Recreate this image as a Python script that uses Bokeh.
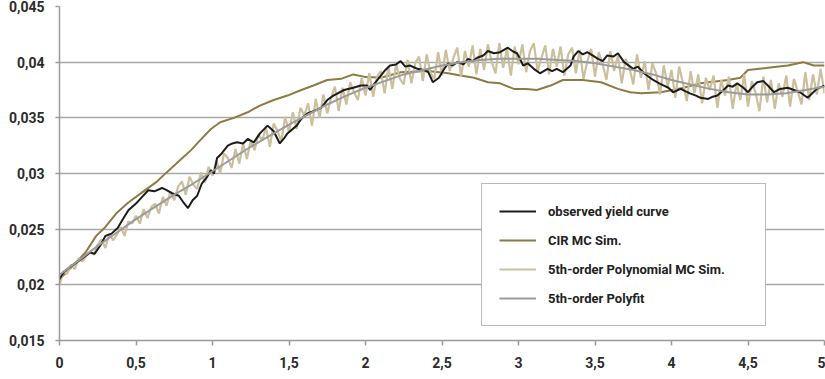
from bokeh.plotting import figure
from bokeh.models import Range1d, FixedTicker, CustomJSTickFormatter, Legend, LegendItem
from bokeh.embed import file_html
from bokeh.resources import INLINE

# ---------------- data ----------------
x_ticks = [0, 0.5, 1, 1.5, 2, 2.5, 3, 3.5, 4, 4.5, 5]
x_tick_labels = ["0", "0,5", "1", "1,5", "2", "2,5", "3", "3,5", "4", "4,5", "5"]
y_ticks = [0.015, 0.02, 0.025, 0.03, 0.035, 0.04, 0.045]
y_tick_labels = ["0,015", "0,02", "0,025", "0,03", "0,035", "0,04", "0,045"]

series_names = ["observed yield curve", "CIR MC Sim.",
                "5th-order Polynomial MC Sim.", "5th-order Polyfit"]

obs_x = [0.00, 0.03, 0.07, 0.10, 0.13, 0.17, 0.20, 0.23, 0.27, 0.30, 0.34, 0.38, 0.41,
         0.45, 0.50, 0.54, 0.58, 0.62, 0.67, 0.70, 0.74, 0.78, 0.81, 0.84, 0.87, 0.90,
         0.93, 0.96, 0.99, 1.01, 1.03, 1.06, 1.10, 1.13, 1.16, 1.20, 1.23, 1.27, 1.31,
         1.36, 1.40, 1.44, 1.47, 1.49, 1.55, 1.58, 1.62, 1.66, 1.71, 1.75, 1.79, 1.86,
         1.92, 1.97, 2.01, 2.03, 2.06, 2.10, 2.13, 2.16, 2.20, 2.23, 2.26, 2.29, 2.34,
         2.38, 2.41, 2.44, 2.48, 2.51, 2.54, 2.57, 2.60, 2.64, 2.67, 2.70, 2.73, 2.77,
         2.80, 2.84, 2.88, 2.93, 2.96, 2.99, 3.01, 3.03, 3.06, 3.10, 3.14, 3.19, 3.22,
         3.25, 3.29, 3.34, 3.36, 3.39, 3.42, 3.45, 3.52, 3.55, 3.58, 3.62, 3.65, 3.69,
         3.75, 3.78, 3.82, 3.88, 3.92, 3.95, 3.98, 4.01, 4.06, 4.09, 4.12, 4.16, 4.19,
         4.24, 4.27, 4.30, 4.34, 4.37, 4.40, 4.43, 4.47, 4.50, 4.53, 4.56, 4.60, 4.63,
         4.67, 4.71, 4.76, 4.80, 4.84, 4.89, 4.92, 4.95, 5.00]
obs_y = [0.0205, 0.0212, 0.0216, 0.0219, 0.0222, 0.0226, 0.0229, 0.0228, 0.0236, 0.0244,
         0.0246, 0.0251, 0.0258, 0.0267, 0.0273, 0.0279, 0.0285, 0.0284, 0.0287, 0.0285,
         0.0282, 0.0280, 0.0274, 0.0269, 0.0276, 0.0280, 0.0291, 0.0296, 0.0303, 0.0300,
         0.0314, 0.0318, 0.0325, 0.0327, 0.0328, 0.0327, 0.0331, 0.0328, 0.0336, 0.0343,
         0.0338, 0.0327, 0.0332, 0.0336, 0.0343, 0.0349, 0.0354, 0.0356, 0.0359, 0.0366,
         0.0370, 0.0375, 0.0377, 0.0379, 0.0379, 0.0375, 0.0381, 0.0388, 0.0393, 0.0397,
         0.0398, 0.0401, 0.0396, 0.0397, 0.0394, 0.0393, 0.0391, 0.0382, 0.0386, 0.0393,
         0.0399, 0.0397, 0.0400, 0.0398, 0.0403, 0.0401, 0.0404, 0.0406, 0.0410, 0.0408,
         0.0409, 0.0413, 0.0410, 0.0408, 0.0403, 0.0397, 0.0399, 0.0394, 0.0390, 0.0394,
         0.0392, 0.0394, 0.0391, 0.0397, 0.0405, 0.0410, 0.0407, 0.0409, 0.0403, 0.0401,
         0.0406, 0.0405, 0.0408, 0.0400, 0.0394, 0.0396, 0.0390, 0.0384, 0.0381, 0.0379,
         0.0377, 0.0373, 0.0376, 0.0374, 0.0372, 0.0370, 0.0368, 0.0367, 0.0369, 0.0370,
         0.0375, 0.0379, 0.0378, 0.0381, 0.0377, 0.0373, 0.0378, 0.0382, 0.0383, 0.0379,
         0.0373, 0.0376, 0.0377, 0.0375, 0.0373, 0.0368, 0.0372, 0.0376, 0.0379]

cir_x = [0.00, 0.05, 0.10, 0.17, 0.24, 0.30, 0.37, 0.45, 0.54, 0.63, 0.70, 0.78, 0.86,
         0.92, 0.99, 1.05, 1.14, 1.23, 1.31, 1.40, 1.49, 1.58, 1.66, 1.75, 1.84, 1.92,
         1.99, 2.10, 2.23, 2.41, 2.54, 2.62, 2.71, 2.80, 2.88, 2.97, 3.05, 3.12, 3.21,
         3.29, 3.42, 3.54, 3.65, 3.73, 3.80, 3.93, 4.08, 4.19, 4.37, 4.45, 4.50, 4.63,
         4.76, 4.86, 4.93, 5.00]
cir_y = [0.0205, 0.0212, 0.0219, 0.0229, 0.0244, 0.0252, 0.0264, 0.0274, 0.0283, 0.0292,
         0.0301, 0.0311, 0.0321, 0.0330, 0.0340, 0.0346, 0.0350, 0.0355, 0.0361, 0.0366,
         0.0370, 0.0375, 0.0379, 0.0384, 0.0385, 0.0389, 0.0387, 0.0386, 0.0391, 0.0392,
         0.0390, 0.0388, 0.0386, 0.0382, 0.0381, 0.0376, 0.0376, 0.0375, 0.0379, 0.0384,
         0.0384, 0.0382, 0.0376, 0.0373, 0.0372, 0.0373, 0.0377, 0.0381, 0.0384, 0.0386,
         0.0393, 0.0395, 0.0397, 0.0400, 0.0397, 0.0397]

polymc_y = [
    0.0200, 0.0212, 0.0210, 0.0218, 0.0214, 0.0224, 0.0221, 0.0226, 0.0230, 0.0227, 0.0236,
    0.0241, 0.0233, 0.0246, 0.0240, 0.0245, 0.0252, 0.0244, 0.0257, 0.0255, 0.0262,
    0.0255, 0.0268, 0.0260, 0.0270, 0.0273, 0.0264, 0.0279, 0.0271, 0.0284, 0.0276,
    0.0288, 0.0293, 0.0281, 0.0297, 0.0290, 0.0286, 0.0301, 0.0292, 0.0306, 0.0298,
    0.0312, 0.0300, 0.0318, 0.0314, 0.0305, 0.0322, 0.0309, 0.0327, 0.0313, 0.0330,
    0.0321, 0.0335, 0.0330, 0.0341, 0.0324, 0.0345, 0.0338, 0.0329, 0.0351, 0.0337,
    0.0355, 0.0340, 0.0359, 0.0352, 0.0363, 0.0343, 0.0367, 0.0350, 0.0371, 0.0354,
    0.0368, 0.0378, 0.0356, 0.0377, 0.0362, 0.0382, 0.0373, 0.0366, 0.0386, 0.0370,
    0.0390, 0.0369, 0.0387, 0.0392, 0.0372, 0.0396, 0.0376, 0.0398, 0.0385, 0.0380,
    0.0402, 0.0381, 0.0399, 0.0405, 0.0383, 0.0407, 0.0390, 0.0385, 0.0409, 0.0388,
    0.0411, 0.0392, 0.0404, 0.0413, 0.0387, 0.0410, 0.0396, 0.0415, 0.0389, 0.0412,
    0.0393, 0.0416, 0.0400, 0.0390, 0.0417, 0.0395, 0.0412, 0.0388, 0.0414, 0.0398,
    0.0416, 0.0391, 0.0410, 0.0417, 0.0392, 0.0404, 0.0415, 0.0389, 0.0412, 0.0396,
    0.0414, 0.0388, 0.0407, 0.0413, 0.0390, 0.0411, 0.0385, 0.0401, 0.0412, 0.0387,
    0.0409, 0.0398, 0.0384, 0.0410, 0.0392, 0.0406, 0.0381, 0.0403, 0.0395, 0.0380,
    0.0407, 0.0386, 0.0401, 0.0375, 0.0399, 0.0390, 0.0371, 0.0397, 0.0378, 0.0393,
    0.0368, 0.0396, 0.0381, 0.0365, 0.0392, 0.0372, 0.0389, 0.0363, 0.0386, 0.0375,
    0.0388, 0.0359, 0.0384, 0.0370, 0.0387, 0.0358, 0.0381, 0.0366, 0.0389, 0.0360,
    0.0383, 0.0372, 0.0356, 0.0387, 0.0364, 0.0384, 0.0358, 0.0381, 0.0369, 0.0388,
    0.0360, 0.0385, 0.0374, 0.0362, 0.0391, 0.0366, 0.0389, 0.0371, 0.0394, 0.0372,
]
polymc_x = [round(i * 0.025, 3) for i in range(len(polymc_y))]

polyfit_x = [0, 0.125, 0.25, 0.375, 0.5, 0.625, 0.75, 0.875, 1.0, 1.125, 1.25, 1.375, 1.5,
             1.625, 1.75, 1.875, 2.0, 2.125, 2.25, 2.375, 2.5, 2.625, 2.75, 2.875, 3.0,
             3.125, 3.25, 3.375, 3.5, 3.625, 3.75, 3.875, 4.0, 4.125, 4.25, 4.375, 4.5,
             4.625, 4.75, 4.875, 5.0]
polyfit_y = [0.0209, 0.0222, 0.0235, 0.0247, 0.0259, 0.0270, 0.0281, 0.0291, 0.0302,
             0.0313, 0.0324, 0.0334, 0.0344, 0.0353, 0.0362, 0.0370, 0.0377, 0.0383,
             0.0389, 0.0393, 0.0397, 0.0400, 0.0402, 0.0403, 0.0403, 0.0403, 0.0402,
             0.0401, 0.0399, 0.0396, 0.0393, 0.0389, 0.0384, 0.0380, 0.0376, 0.0373,
             0.0371, 0.0371, 0.0372, 0.0375, 0.0378]

colors = ["#1c1c1c", "#8e7b43", "#cbbf9c", "#9b9b9b"]

# ---------------- figure ----------------
p = figure(width=825, height=379, output_backend="svg", toolbar_location=None,
           x_range=Range1d(0, 5), y_range=Range1d(0.015, 0.045),
           min_border_left=59, min_border_right=1, min_border_top=6, min_border_bottom=39)
p.outline_line_color = None
p.background_fill_color = "white"
p.border_fill_color = "white"

font = "Roboto"
p.xaxis.ticker = FixedTicker(ticks=x_ticks)
p.yaxis.ticker = FixedTicker(ticks=y_ticks)
p.xaxis.formatter = CustomJSTickFormatter(args=dict(t=x_ticks, l=x_tick_labels), code="""
    const i = t.findIndex(v => Math.abs(v - tick) < 1e-9); return i >= 0 ? l[i] : String(tick);""")
p.yaxis.formatter = CustomJSTickFormatter(args=dict(t=y_ticks, l=y_tick_labels), code="""
    const i = t.findIndex(v => Math.abs(v - tick) < 1e-9); return i >= 0 ? l[i] : String(tick);""")

for ax in (p.xaxis, p.yaxis):
    ax.axis_line_color = "#9a9a9a"
    ax.axis_line_width = 1.5
    ax.major_tick_line_color = "#9a9a9a"
    ax.major_tick_line_width = 1.5
    ax.minor_tick_line_color = None
    ax.major_tick_in = 0
    ax.major_label_text_font = font
    ax.major_label_text_font_style = "bold"
    ax.major_label_text_font_size = "14px"
    ax.major_label_text_color = "#2b2b2b"
p.xaxis.major_tick_out = 5
p.yaxis.major_tick_out = 4
p.xaxis.major_label_standoff = 11
p.yaxis.major_label_standoff = 11

p.xgrid.grid_line_color = None
p.ygrid.grid_line_color = "#a8a8a8"
p.ygrid.grid_line_width = 1.5

r_cir = p.line(cir_x, cir_y, line_color=colors[1], line_width=2)
r_mc = p.line(polymc_x, polymc_y, line_color=colors[2], line_width=2.2)
r_obs = p.line(obs_x, obs_y, line_color=colors[0], line_width=2)
r_fit = p.line(polyfit_x, polyfit_y, line_color=colors[3], line_width=2)

legend = Legend(items=[LegendItem(label=series_names[0], renderers=[r_obs]),
                       LegendItem(label=series_names[1], renderers=[r_cir]),
                       LegendItem(label=series_names[2], renderers=[r_mc]),
                       LegendItem(label=series_names[3], renderers=[r_fit])],
                location=(422, 14), orientation="vertical")
legend.border_line_color = "#767676"
legend.border_line_width = 1
legend.background_fill_color = "white"
legend.background_fill_alpha = 1
legend.padding = 17
legend.spacing = 9
legend.glyph_height = 20
legend.glyph_width = 37
legend.label_standoff = 12
legend.label_width = 200
legend.label_text_font = font
legend.label_text_font_style = "bold"
legend.label_text_font_size = "13px"
legend.label_text_color = "#222222"
legend.margin = 0
p.add_layout(legend, "center")

open("out.html", "w").write(file_html(p, INLINE))
